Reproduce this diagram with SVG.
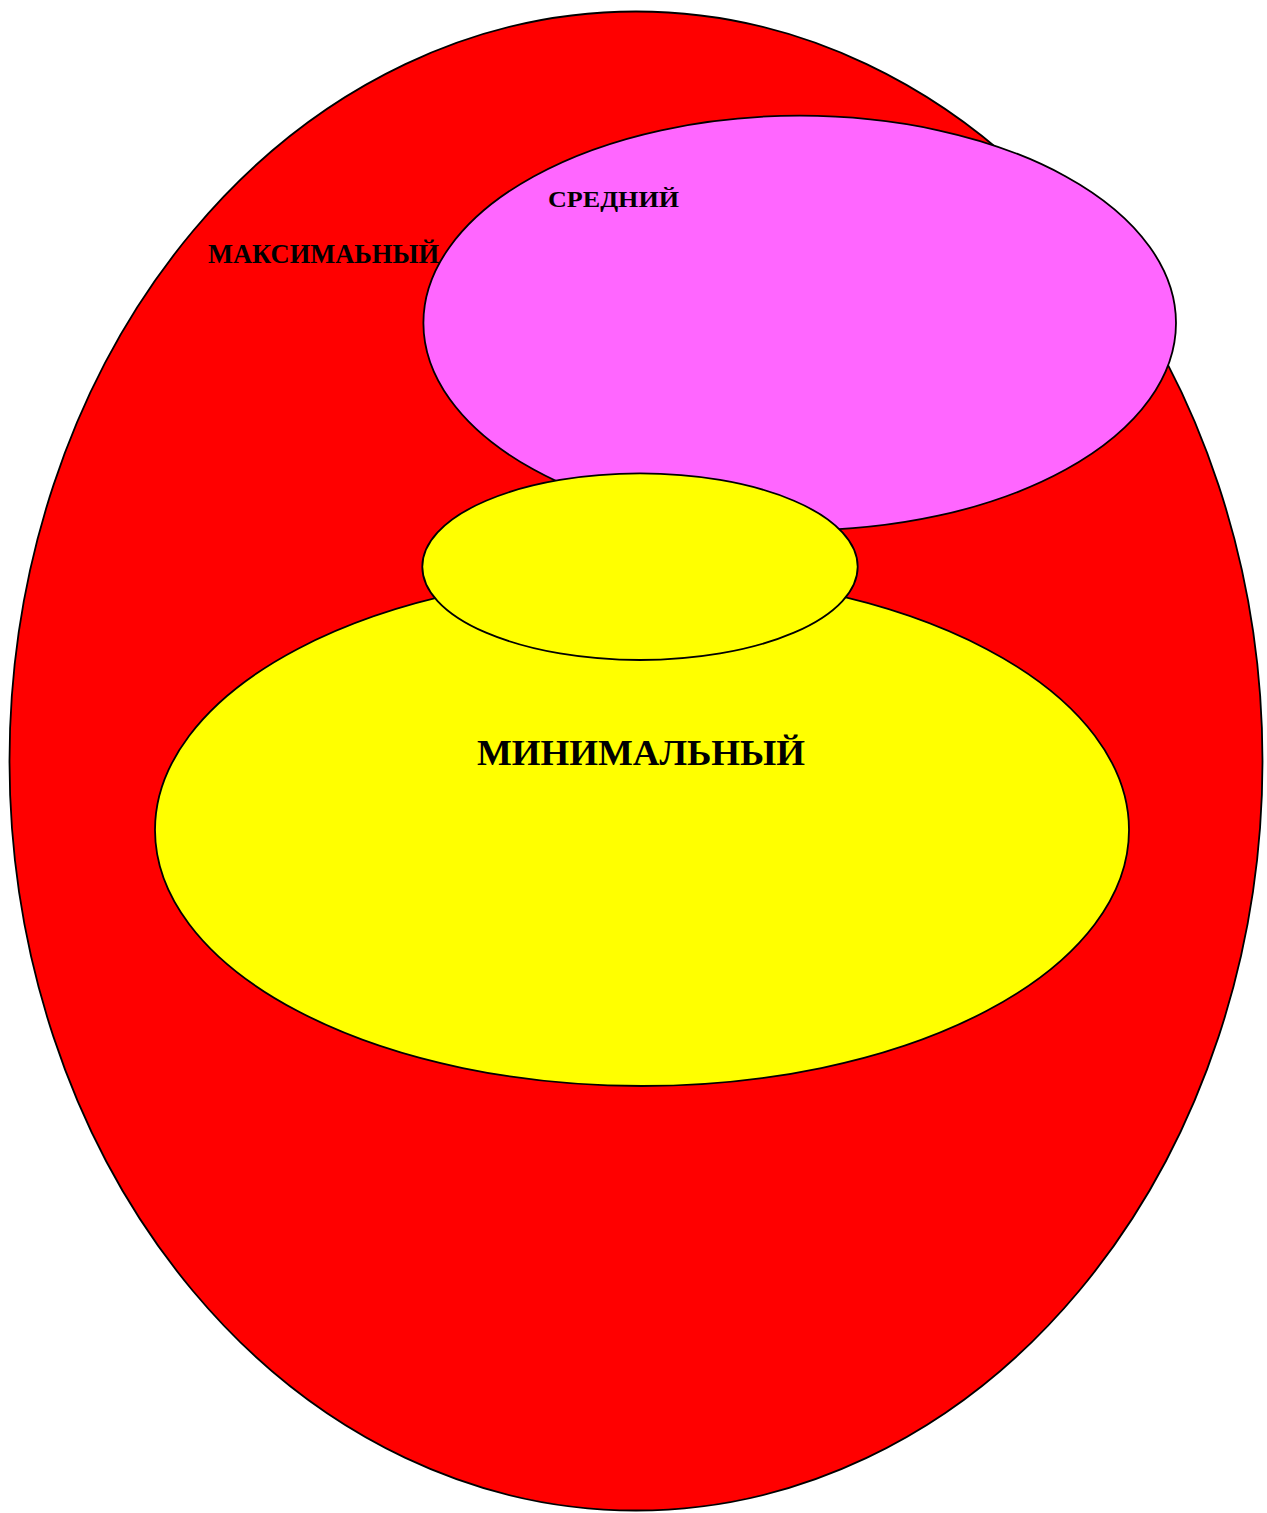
<svg xmlns="http://www.w3.org/2000/svg" width="1267" height="1513" viewBox="0 0 1267 1513">
<style>
.e{stroke:#000;stroke-width:1.8}
.t{font-family:"Liberation Serif","Times New Roman",serif;font-weight:bold;fill:#000}
</style>
<rect width="1267" height="1513" fill="#fff"/>
<g id="maximal">
<ellipse class="e" cx="636" cy="761" rx="626.5" ry="749.5" fill="#ff0000"/>
<text class="t" x="208" y="263" font-size="27" textLength="231" lengthAdjust="spacingAndGlyphs">МАКСИМАЬНЫЙ</text>
</g>
<g id="medium">
<ellipse class="e" cx="799.7" cy="323" rx="376.3" ry="207.3" fill="#ff66ff"/>
<text class="t" x="548" y="207" font-size="24" textLength="131" lengthAdjust="spacingAndGlyphs">СРЕДНИЙ</text>
</g>
<g id="minimal">
<ellipse class="e" cx="642" cy="830" rx="487" ry="256" fill="#ffff00"/>
<text class="t" x="477" y="765" font-size="36" textLength="328" lengthAdjust="spacingAndGlyphs">МИНИМАЛЬНЫЙ</text>
</g>
<g id="minimal-top">
<ellipse class="e" cx="640" cy="566.7" rx="217.7" ry="93.3" fill="#ffff00"/>
</g>
<g id="connectors"/>
</svg>
